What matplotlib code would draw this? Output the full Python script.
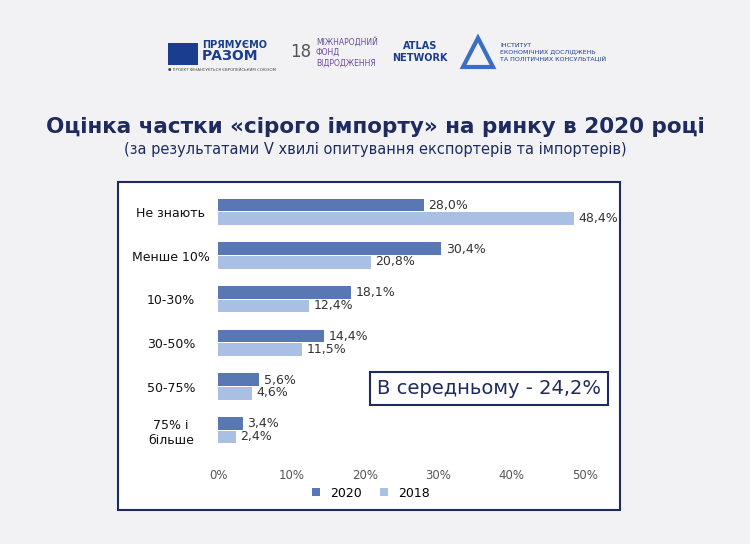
import matplotlib
matplotlib.use("Agg")
import matplotlib.pyplot as plt
from matplotlib.patches import Rectangle
import numpy as np

categories = ["Не знають", "Менше 10%", "10-30%", "30-50%", "50-75%", "75% і\nбільше"]
values_2020 = [28.0, 30.4, 18.1, 14.4, 5.6, 3.4]
values_2018 = [48.4, 20.8, 12.4, 11.5, 4.6, 2.4]
xticks = [0, 10, 20, 30, 40, 50]

W, H = 750, 544
fig = plt.figure(figsize=(W/100, H/100), dpi=100)
fig.patch.set_facecolor("#f2f2f4")
navy = "#1f2b5e"
dark = "#5877b3"
light = "#a9bfe3"

def fx(x): return x / W
def fy(y): return 1 - y / H

fig.patches.append(Rectangle((fx(118), fy(510)), fx(620) - fx(118), fy(182) - fy(510),
                             transform=fig.transFigure, facecolor="white", edgecolor=navy, lw=1.5, zorder=-5))

fig.patches.append(Rectangle((fx(168), fy(65)), 30/W, 22/H, transform=fig.transFigure, facecolor="#1a3d8f", edgecolor="none"))
fig.text(fx(202), fy(45), "ПРЯМУЄМО", fontsize=7, color="#1a3d8f", weight="bold", va="center")
fig.text(fx(202), fy(56), "РАЗОМ", fontsize=10, color="#1a3d8f", weight="bold", va="center")
fig.text(fx(168), fy(70), "● ПРОЕКТ ФІНАНСУЄТЬСЯ ЄВРОПЕЙСЬКИМ СОЮЗОМ", fontsize=2.8, color="#444", va="center")
fig.text(fx(290), fy(52), "18", fontsize=12, color="#555", va="center")
fig.text(fx(316), fy(52), "МІЖНАРОДНИЙ\nФОНД\nВІДРОДЖЕННЯ", fontsize=5.5, color="#6d4c9f", va="center", linespacing=1.2)
fig.text(fx(420), fy(52), "ATLAS\nNETWORK", fontsize=7, color="#1a3d8f", va="center", ha="center", weight="bold")
fig.patches.append(plt.Polygon([[fx(463), fy(67)], [fx(478), fy(38)], [fx(493), fy(67)]], closed=True,
                               transform=fig.transFigure, facecolor="#f2f2f4", edgecolor="#3a6fc4", lw=3))
fig.text(fx(500), fy(52), "ІНСТИТУТ\nЕКОНОМІЧНИХ ДОСЛІДЖЕНЬ\nТА ПОЛІТИЧНИХ КОНСУЛЬТАЦІЙ", fontsize=4.5, color="#1a3d8f", va="center")

fig.text(0.5, fy(127), "Оцінка частки «сірого імпорту» на ринку в 2020 році", fontsize=15.5,
         weight="bold", color=navy, ha="center", va="center")
fig.text(0.5, fy(149), "(за результатами V хвилі опитування експортерів та імпортерів)", fontsize=10.5,
         color=navy, ha="center", va="center")

ax = fig.add_axes([fx(218), fy(452), fx(600) - fx(218), fy(190) - fy(452)])
ax.set_facecolor("none")
y = np.arange(len(categories))
h = 0.29
ax.barh(y - h/2 - 0.01, values_2020, height=h, color=dark, label="2020")
ax.barh(y + h/2 + 0.01, values_2018, height=h, color=light, label="2018")
for i in range(len(categories)):
    ax.text(values_2020[i] + 0.6, y[i] - h/2, f"{values_2020[i]:.1f}".replace(".", ",") + "%",
            va="center", fontsize=9, color="#333")
    ax.text(values_2018[i] + 0.6, y[i] + h/2, f"{values_2018[i]:.1f}".replace(".", ",") + "%",
            va="center", fontsize=9, color="#333")
ax.set_xlim(0, 52)
ax.set_ylim(len(categories) - 0.5, -0.5)
ax.set_yticks(y)
ax.set_yticklabels(categories, fontsize=9, color="#111", ha="center")
ax.set_xticks(xticks)
ax.set_xticklabels([f"{t}%" for t in xticks], fontsize=8.5, color="#555")
for s in ax.spines.values():
    s.set_visible(False)
ax.tick_params(length=0)
ax.tick_params(axis="x", pad=12)
ax.tick_params(axis="y", pad=34)
ax.legend(loc="upper center", bbox_to_anchor=(0.4, -0.09), ncol=2, frameon=False,
          fontsize=9, handlelength=0.6, handleheight=0.6, columnspacing=1.5)

fig.patches.append(Rectangle((fx(370), fy(405)), fx(608) - fx(370), fy(372) - fy(405),
                             transform=fig.transFigure, facecolor="white", edgecolor=navy, lw=1.5, zorder=5))
fig.text(fx(489), fy(389), "В середньому - 24,2%", fontsize=14, color=navy, ha="center", va="center", zorder=6)

fig.savefig("out.png", dpi=100, facecolor=fig.get_facecolor())
